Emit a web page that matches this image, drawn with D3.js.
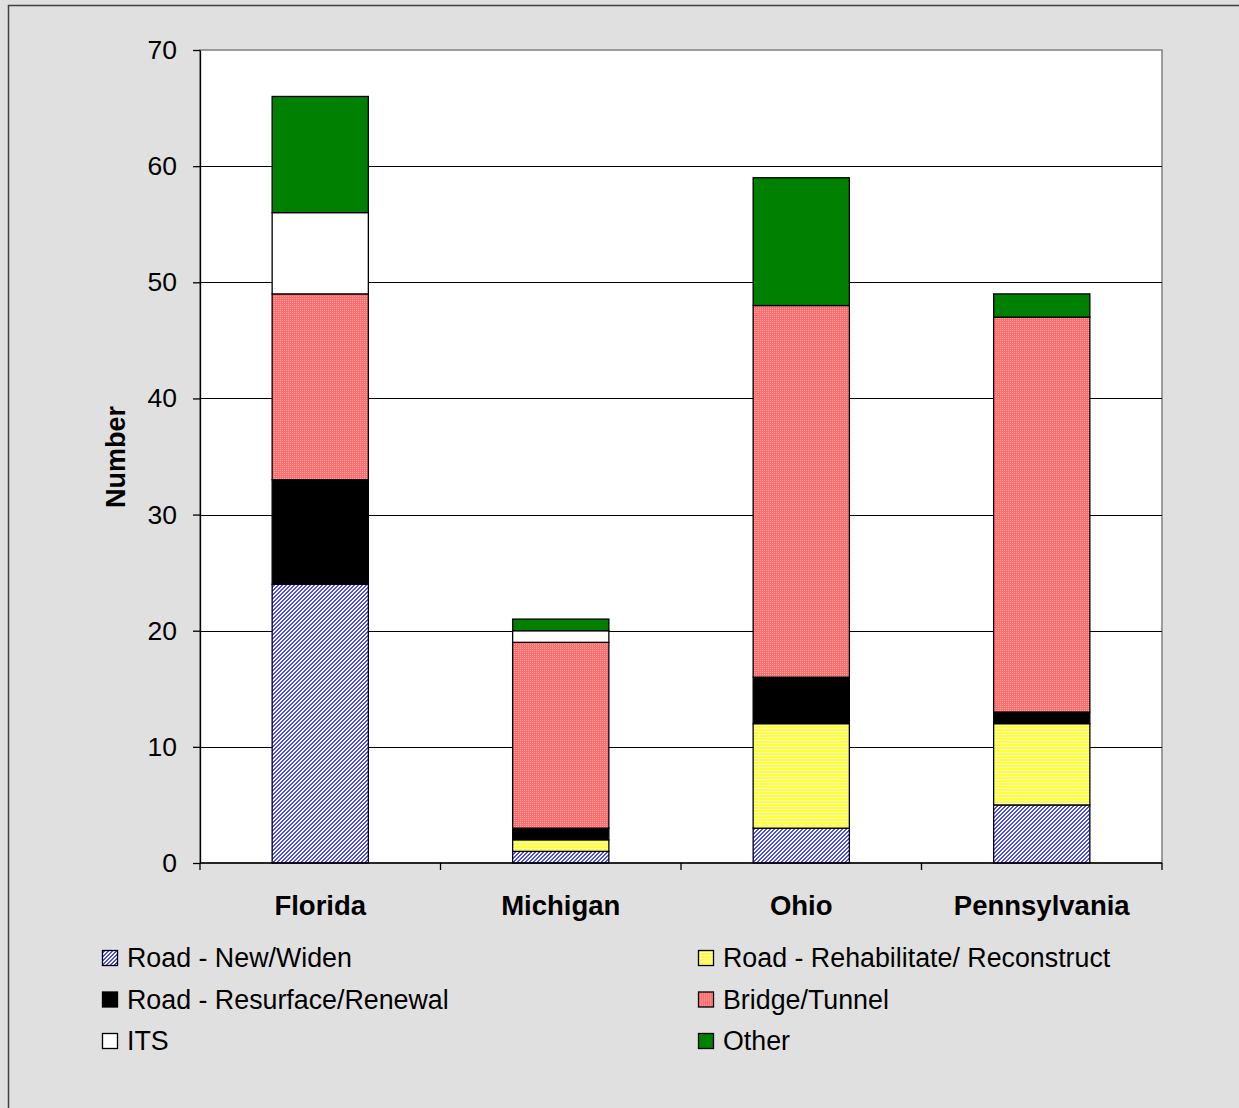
<!DOCTYPE html>
<html>
<head>
<meta charset="utf-8">
<script src="https://cdn.jsdelivr.net/npm/d3@7"></script>
<style>
  html, body { margin: 0; padding: 0; background: #e0e0e0; }
  svg { display: block; font-family: "Liberation Sans", Arial, sans-serif; }
</style>
</head>
<body>
<svg id="chart" width="1239" height="1108"></svg>
<script>
// Project counts by state and project type
const states = ["Florida", "Michigan", "Ohio", "Pennsylvania"];
const projectTypes = [
  "Road - New/Widen",
  "Road - Rehabilitate/ Reconstruct",
  "Road - Resurface/Renewal",
  "Bridge/Tunnel",
  "ITS",
  "Other"
];
const roadNewWiden      = [24, 1, 3, 5];
const roadRehabilitate  = [0, 1, 9, 7];
const roadResurface     = [9, 1, 4, 1];
const bridgeTunnel      = [16, 16, 32, 34];
const its               = [7, 1, 0, 0];
const other             = [10, 1, 11, 2];
const yTicks = [0, 10, 20, 30, 40, 50, 60, 70];

const seriesValues = [roadNewWiden, roadRehabilitate, roadResurface, bridgeTunnel, its, other];
const rows = states.map((s, i) => {
  const r = { state: s };
  projectTypes.forEach((t, k) => { r[t] = seriesValues[k][i]; });
  return r;
});

const svg = d3.select("#chart");
const defs = svg.append("defs");

// Fill patterns
const pBlue = defs.append("pattern").attr("id", "pBlue").attr("patternUnits", "userSpaceOnUse")
  .attr("width", 4).attr("height", 4);
pBlue.append("rect").attr("width", 4).attr("height", 4).attr("fill", "#ffffff");
[[3,0],[2,0],[2,1],[1,1],[1,2],[0,2],[0,3],[3,3]].forEach(([x, y]) =>
  pBlue.append("rect").attr("x", x).attr("y", y).attr("width", 1).attr("height", 1).attr("fill", "#4a4aff"));

const pYellow = defs.append("pattern").attr("id", "pYellow").attr("patternUnits", "userSpaceOnUse")
  .attr("width", 4).attr("height", 3);
pYellow.append("rect").attr("width", 4).attr("height", 3).attr("fill", "#ffff33");
pYellow.append("rect").attr("y", 2).attr("width", 4).attr("height", 1).attr("fill", "#ffffcc");

const pRed = defs.append("pattern").attr("id", "pRed").attr("patternUnits", "userSpaceOnUse")
  .attr("width", 2).attr("height", 2);
pRed.append("rect").attr("width", 2).attr("height", 2).attr("fill", "#ff6e6e");
pRed.append("rect").attr("x", 0).attr("y", 0).attr("width", 1).attr("height", 1).attr("fill", "#ffa4a4");

const fills = ["url(#pBlue)", "url(#pYellow)", "#000000", "url(#pRed)", "#ffffff", "#008000"];

// Outer frame
svg.append("rect").attr("x", 8.5).attr("y", 5.5).attr("width", 1240).attr("height", 1110)
  .attr("fill", "#e0e0e0").attr("stroke", "#404040").attr("stroke-width", 1.5);

const plot = { left: 200, top: 50, right: 1162, bottom: 863 };

const x = d3.scaleBand().domain(states).range([plot.left, plot.right]).paddingInner(0.6).paddingOuter(0.3);
const xOuter = d3.scaleBand().domain(states).range([plot.left, plot.right]);
const y = d3.scaleLinear().domain([0, 70]).range([plot.bottom, plot.top]);

// Plot area background
svg.append("rect").attr("x", plot.left).attr("y", plot.top)
  .attr("width", plot.right - plot.left).attr("height", plot.bottom - plot.top)
  .attr("fill", "#ffffff").attr("stroke", "#808080").attr("stroke-width", 1.5);

// Gridlines
svg.append("g").selectAll("line").data(yTicks.filter(t => t > 0 && t < 70)).join("line")
  .attr("x1", plot.left).attr("x2", plot.right)
  .attr("y1", d => Math.round(y(d)) + 0.5).attr("y2", d => Math.round(y(d)) + 0.5)
  .attr("stroke", "#000000").attr("stroke-width", 1);

// Stacked bars
const stack = d3.stack().keys(projectTypes)(rows);
const layers = svg.append("g").selectAll("g").data(stack).join("g")
  .attr("fill", (d, i) => fills[i]);
layers.selectAll("rect").data(d => d.filter(s => s[1] - s[0] > 0)).join("rect")
  .attr("x", d => x(d.data.state))
  .attr("width", x.bandwidth())
  .attr("y", d => y(d[1]))
  .attr("height", d => y(d[0]) - y(d[1]))
  .attr("stroke", "#000000").attr("stroke-width", 1.3);

// Y axis
const yAxis = svg.append("g").attr("transform", `translate(${plot.left},0)`)
  .call(d3.axisLeft(y).tickValues(yTicks).tickSize(7).tickPadding(16).tickSizeOuter(0));
yAxis.select(".domain").attr("stroke", "#000").attr("stroke-width", 1.3);
yAxis.selectAll(".tick line").attr("stroke", "#000").attr("stroke-width", 1.3);
yAxis.selectAll(".tick text").attr("font-size", 26.5).attr("fill", "#000")
  .attr("font-family", "'Liberation Sans', Arial, sans-serif");

// X axis: baseline, boundary ticks and category labels
const xg = svg.append("g");
xg.append("line").attr("x1", plot.left).attr("x2", plot.right)
  .attr("y1", plot.bottom).attr("y2", plot.bottom).attr("stroke", "#000").attr("stroke-width", 1.3);
const bounds = states.map(s => xOuter(s)).concat([plot.right]);
xg.selectAll("line.b").data(bounds).join("line").attr("class", "b")
  .attr("x1", d => d).attr("x2", d => d)
  .attr("y1", plot.bottom).attr("y2", plot.bottom + 7)
  .attr("stroke", "#000").attr("stroke-width", 1.3);
xg.selectAll("text").data(states).join("text")
  .attr("x", d => xOuter(d) + xOuter.bandwidth() / 2)
  .attr("y", 915)
  .attr("text-anchor", "middle")
  .attr("font-size", 27.5).attr("font-weight", "bold").attr("fill", "#000")
  .text(d => d);

// Y axis title
svg.append("text")
  .attr("transform", "translate(125,457) rotate(-90)")
  .attr("text-anchor", "middle")
  .attr("font-size", 27).attr("font-weight", "bold").attr("fill", "#000")
  .text("Number");

// Legend
const legendOrder = [0, 1, 2, 3, 4, 5];
const legend = svg.append("g");
const items = legend.selectAll("g").data(legendOrder).join("g")
  .attr("transform", (d, i) => `translate(${i % 2 === 0 ? 102 : 698},${950 + Math.floor(i / 2) * 41.5})`);
items.append("rect").attr("x", 0.5).attr("y", 0.5).attr("width", 15).attr("height", 15)
  .attr("fill", d => fills[d]).attr("stroke", "#000").attr("stroke-width", 1.3);
items.append("text").attr("x", 25).attr("y", 17)
  .attr("font-size", 26.8).attr("fill", "#000")
  .text(d => projectTypes[d]);
</script>
</body>
</html>
